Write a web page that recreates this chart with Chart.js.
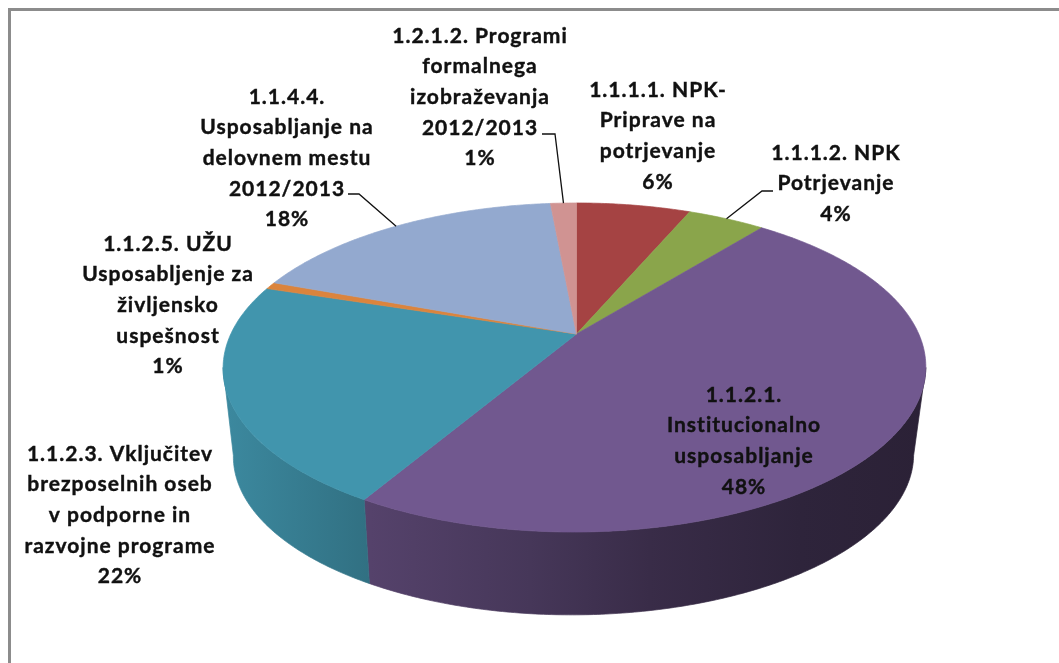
<!DOCTYPE html>
<html>
<head>
<meta charset="utf-8">
<title>Pie</title>
<style>
  html, body { margin: 0; padding: 0; background: #fff; overflow: hidden; }
  canvas { display: block; }
</style>
<script src="https://cdn.jsdelivr.net/npm/chart.js@4"></script>
</head>
<body>
<canvas id="pie" width="1059" height="663"></canvas>
<script>
// data
var categories = [
    ['1.1.1.1. NPK-', 'Priprave na', 'potrjevanje'],
    ['1.1.1.2. NPK', 'Potrjevanje'],
    ['1.1.2.1.', 'Institucionalno', 'usposabljanje'],
    ['1.1.2.3. Vključitev', 'brezposelnih oseb', 'v podporne in', 'razvojne programe'],
    ['1.1.2.5. UŽU', 'Usposabljenje za', 'življensko', 'uspešnost'],
    ['1.1.4.4.', 'Usposabljanje na', 'delovnem mestu', '2012/2013'],
    ['1.2.1.2. Programi', 'formalnega', 'izobraževanja', '2012/2013']
];
var shares = [6.4, 4.35, 47.6, 21.6, 0.7, 17.9, 1.45];
var colors = ['#A54343', '#8AA54B', '#71588F', '#4195AD', '#DB843D', '#93A9CF', '#D09392'];

// label placement: centre x, centre y of first line
var labelPos = [[658, 90], [836, 153], [744, 395], [120, 454], [168, 244], [287, 97], [480, 36]];
// leader lines: label side start, elbow (the far end comes from the slice)
var leaders = [null, [[773, 191], [762, 191]], null, null, null, [[348, 194], [359, 194]], [[542, 134], [555, 134]]];

// projection of the flat pie, top face and bottom face
var persp = 0.2036;
var topFace = { rx: 344, ry: 157.7, drop: 0, lean: -1.7 };
var bottomFace = { rx: 333, ry: 152.8, drop: 89, lean: -2.5 };
var wallStops = [[223, 0.92], [370, 0.75], [530, 0.62], [650, 0.5], [800, 0.41], [926, 0.38]];

function project(el, angle, face) {
    var u = Math.cos(angle), v = Math.sin(angle);
    var d = 1 - persp * v;
    return {
        x: el.x + face.rx * u / d + face.lean * (1 + v),
        y: el.y + face.drop + face.ry * v / d
    };
}

function shade(hex, f) {
    var n = parseInt(hex.slice(1), 16);
    return 'rgb(' + Math.round((n >> 16 & 255) * f) + ',' + Math.round((n >> 8 & 255) * f) + ',' + Math.round((n & 255) * f) + ')';
}

function arcPoints(el, face, from, to) {
    var pts = [];
    var steps = Math.max(2, Math.ceil((to - from) / 0.01));
    for (var i = 0; i <= steps; i++) {
        pts.push(project(el, from + (to - from) * i / steps, face));
    }
    return pts;
}

function tracePath(ctx, pts) {
    ctx.beginPath();
    pts.forEach(function (p, i) {
        if (i === 0) ctx.moveTo(p.x, p.y); else ctx.lineTo(p.x, p.y);
    });
    ctx.closePath();
}

var pie3d = {
    id: 'pie3d',
    beforeDraw: function (chart) {
        // frame, only top and left fall inside the picture
        var ctx = chart.ctx;
        ctx.save();
        ctx.fillStyle = '#8c8c8c';
        ctx.fillRect(8, 8, 1051, 3);
        ctx.fillRect(8, 8, 3, 655);
        ctx.restore();
    },
    beforeDatasetsDraw: function (chart) {
        var ctx = chart.ctx;
        var arcs = chart.getDatasetMeta(0).data;
        // the wall only shows between the two tangent points of the rim
        var frontFrom = Math.asin(persp);
        var frontTo = Math.PI - frontFrom;
        ctx.save();
        ctx.lineJoin = 'round';
        ctx.lineWidth = 0.7;

        // outer wall
        arcs.forEach(function (el, i) {
            var from = Math.max(el.startAngle, frontFrom);
            var to = Math.min(el.endAngle, frontTo);
            if (to <= from) return;
            var grad = ctx.createLinearGradient(223, 0, 926, 0);
            wallStops.forEach(function (s) {
                grad.addColorStop((s[0] - 223) / 703, shade(colors[i], s[1]));
            });
            tracePath(ctx, arcPoints(el, topFace, from, to).concat(arcPoints(el, bottomFace, from, to).reverse()));
            ctx.fillStyle = grad;
            ctx.strokeStyle = grad;
            ctx.fill();
            ctx.stroke();
        });

        // top face
        arcs.forEach(function (el, i) {
            var pts = arcPoints(el, topFace, el.startAngle, el.endAngle);
            pts.unshift({ x: el.x, y: el.y });
            tracePath(ctx, pts);
            ctx.fillStyle = colors[i];
            ctx.strokeStyle = colors[i];
            ctx.fill();
            ctx.stroke();
        });
        ctx.restore();
        return false;
    },
    afterDraw: function (chart) {
        var ctx = chart.ctx;
        var arcs = chart.getDatasetMeta(0).data;
        var total = shares.reduce(function (a, b) { return a + b; }, 0);
        ctx.save();

        // leader lines
        ctx.strokeStyle = '#111';
        ctx.lineWidth = 1.3;
        arcs.forEach(function (el, i) {
            if (!leaders[i]) return;
            var end = project(el, (el.startAngle + el.endAngle) / 2, topFace);
            ctx.beginPath();
            ctx.moveTo(leaders[i][0][0], leaders[i][0][1]);
            ctx.lineTo(leaders[i][1][0], leaders[i][1][1]);
            ctx.lineTo(end.x, end.y);
            ctx.stroke();
        });

        // labels
        ctx.fillStyle = '#111';
        ctx.strokeStyle = '#111';
        ctx.lineWidth = 0.4;
        ctx.font = 'bold 21px Lato';
        ctx.letterSpacing = '1px';
        ctx.textAlign = 'center';
        ctx.textBaseline = 'middle';
        categories.forEach(function (lines, i) {
            var all = lines.concat([Math.round(shares[i] / total * 100) + '%']);
            all.forEach(function (line, j) {
                ctx.fillText(line, labelPos[i][0], labelPos[i][1] + j * 30.6);
                ctx.strokeText(line, labelPos[i][0], labelPos[i][1] + j * 30.6);
            });
        });
        ctx.restore();
    }
};

new Chart(document.getElementById('pie'), {
    type: 'pie',
    data: {
        labels: categories.map(function (c) { return c.join(' '); }),
        datasets: [{
            data: shares,
            backgroundColor: colors,
            borderWidth: 0
        }]
    },
    options: {
        responsive: false,
        animation: false,
        layout: { padding: { left: 94, top: 5, right: 0, bottom: 0 } },
        plugins: {
            legend: { display: false },
            tooltip: { enabled: false }
        }
    },
    plugins: [pie3d]
});
</script>
</body>
</html>
